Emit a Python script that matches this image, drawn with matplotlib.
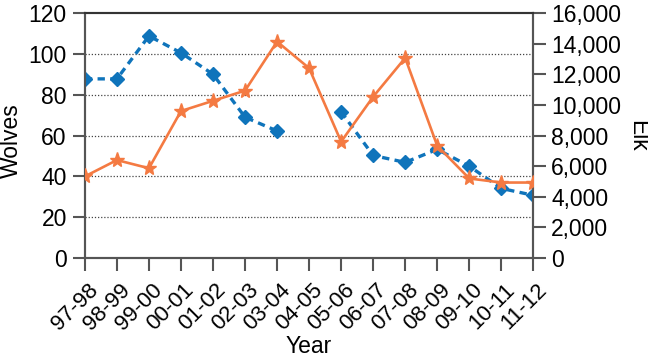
import matplotlib.pyplot as plt
from matplotlib.ticker import FuncFormatter
from matplotlib.transforms import ScaledTranslation

plt.rcParams["font.family"] = ["Liberation Sans", "DejaVu Sans"]

years = ["97-98", "98-99", "99-00", "00-01", "01-02", "02-03", "03-04", "04-05",
         "05-06", "06-07", "07-08", "08-09", "09-10", "10-11", "11-12"]
wolves = [40, 48, 44, 72, 77, 82, 106, 93, 57, 79, 98, 55, 39, 37, 37]
elk = [11700, 11700, 14500, 13400, 12000, 9200, 8300, None,
       9550, 6700, 6250, 7100, 6000, 4550, 4100]

WOLF_COLOR = "#f47a42"
ELK_COLOR = "#0f74bb"
AXIS_COLOR = "#555555"
FS = 16.5

fig = plt.figure(figsize=(6.48, 3.61), dpi=100)
ax = fig.add_axes([0.131, 0.285, 0.692, 0.679])
ax2 = ax.twinx()
ax2.set_zorder(0)
ax.set_zorder(1)
ax.patch.set_visible(False)
ax2.patch.set_facecolor("#e4f7fa")

x = list(range(len(years)))
elk_vals = [float("nan") if v is None else v for v in elk]

ax2.plot(x, elk_vals, color=ELK_COLOR, linestyle=(0, (2.2, 1.6)), linewidth=2.4,
         marker="D", markersize=7, zorder=3)
ax.plot(x, wolves, color=WOLF_COLOR, linewidth=1.9, marker="*", markersize=11,
        zorder=4)

ax.set_xlim(0, len(years) - 1)
ax.set_ylim(0, 120)
ax.set_yticks(range(0, 121, 20))
ax2.set_ylim(0, 16000)
ax2.set_yticks(range(0, 16001, 2000))
ax2.yaxis.set_major_formatter(FuncFormatter(lambda v, _: f"{int(v):,}"))

for y in range(20, 101, 20):
    ax2.axhline(y * 16000 / 120, color="#444444", linestyle=(0, (1, 1.5)),
                linewidth=0.9, zorder=1)

for a in (ax, ax2):
    for s in a.spines.values():
        s.set_color(AXIS_COLOR)
        s.set_linewidth(1.5)
    a.tick_params(direction="out", length=9, width=1.5, color=AXIS_COLOR,
                  labelsize=FS, pad=4)
ax.spines["top"].set_color("#333333")

ax.set_xticks(x)
ax.set_xticklabels(years, rotation=45, ha="right", va="center",
                   rotation_mode="anchor", fontsize=16)
# nudge the rotated year labels down/right like the original
shift = ScaledTranslation(10 / 100, -11 / 100, fig.dpi_scale_trans)
for lbl in ax.get_xticklabels():
    lbl.set_transform(lbl.get_transform() + shift)

ax.set_ylabel("Wolves", fontsize=FS)
ax2.set_ylabel("Elk", fontsize=FS, rotation=270)
ax.set_xlabel("Year", fontsize=FS)
ax.yaxis.set_label_coords(-0.164, 0.48)
ax2.yaxis.set_label_coords(1.232, 0.50)
ax.xaxis.set_label_coords(0.5, -0.359)
for lab in (ax.yaxis.label, ax2.yaxis.label, ax.xaxis.label):
    lab.set_va("center")
    lab.set_ha("center")
    lab.set_rotation_mode("anchor")

fig.savefig("out.png", dpi=100)
